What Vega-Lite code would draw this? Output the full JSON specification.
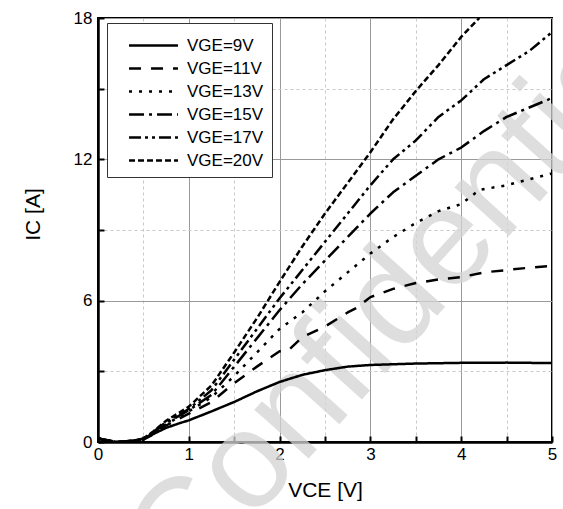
{
  "$schema": "https://vega.github.io/schema/vega-lite/v6.json",
  "width": 454,
  "height": 424,
  "autosize": {"type": "none"},
  "padding": {"left": 98, "top": 18, "right": 11, "bottom": 67},
  "background": "white",
  "config": {
    "font": "Liberation Sans",
    "view": {"stroke": "black", "strokeWidth": 2},
    "axis": {"labelFont": "Liberation Sans", "titleFont": "Liberation Sans", "labelColor": "black", "titleColor": "black", "titleFontWeight": "normal"}
  },
  "datasets": {
    "curves": [
      {"s": "VGE=9V", "x": 0, "y": 0.15}, {"s": "VGE=9V", "x": 0.1, "y": 0.05}, {"s": "VGE=9V", "x": 0.2, "y": 0.0}, {"s": "VGE=9V", "x": 0.3, "y": 0.03}, {"s": "VGE=9V", "x": 0.4, "y": 0.06}, {"s": "VGE=9V", "x": 0.5, "y": 0.15}, {"s": "VGE=9V", "x": 0.6, "y": 0.32}, {"s": "VGE=9V", "x": 0.75, "y": 0.6}, {"s": "VGE=9V", "x": 0.9, "y": 0.8}, {"s": "VGE=9V", "x": 1.0, "y": 0.92}, {"s": "VGE=9V", "x": 1.25, "y": 1.3}, {"s": "VGE=9V", "x": 1.5, "y": 1.7}, {"s": "VGE=9V", "x": 1.75, "y": 2.15}, {"s": "VGE=9V", "x": 2.0, "y": 2.55}, {"s": "VGE=9V", "x": 2.25, "y": 2.85}, {"s": "VGE=9V", "x": 2.5, "y": 3.05}, {"s": "VGE=9V", "x": 2.75, "y": 3.2}, {"s": "VGE=9V", "x": 3.0, "y": 3.27}, {"s": "VGE=9V", "x": 3.5, "y": 3.33}, {"s": "VGE=9V", "x": 4.0, "y": 3.36}, {"s": "VGE=9V", "x": 4.5, "y": 3.37}, {"s": "VGE=9V", "x": 5.0, "y": 3.35},
      {"s": "VGE=11V", "x": 0, "y": 0.15}, {"s": "VGE=11V", "x": 0.2, "y": 0.0}, {"s": "VGE=11V", "x": 0.4, "y": 0.05}, {"s": "VGE=11V", "x": 0.5, "y": 0.1}, {"s": "VGE=11V", "x": 0.6, "y": 0.3}, {"s": "VGE=11V", "x": 0.75, "y": 0.7}, {"s": "VGE=11V", "x": 1.0, "y": 1.2}, {"s": "VGE=11V", "x": 1.25, "y": 1.7}, {"s": "VGE=11V", "x": 1.5, "y": 2.5}, {"s": "VGE=11V", "x": 1.75, "y": 3.2}, {"s": "VGE=11V", "x": 2.0, "y": 3.85}, {"s": "VGE=11V", "x": 2.1, "y": 3.9}, {"s": "VGE=11V", "x": 2.25, "y": 4.45}, {"s": "VGE=11V", "x": 2.5, "y": 4.9}, {"s": "VGE=11V", "x": 2.75, "y": 5.5}, {"s": "VGE=11V", "x": 2.85, "y": 5.7}, {"s": "VGE=11V", "x": 3.0, "y": 6.15}, {"s": "VGE=11V", "x": 3.25, "y": 6.5}, {"s": "VGE=11V", "x": 3.5, "y": 6.75}, {"s": "VGE=11V", "x": 3.75, "y": 6.9}, {"s": "VGE=11V", "x": 4.0, "y": 7.0}, {"s": "VGE=11V", "x": 4.25, "y": 7.2}, {"s": "VGE=11V", "x": 4.5, "y": 7.3}, {"s": "VGE=11V", "x": 4.75, "y": 7.4}, {"s": "VGE=11V", "x": 5.0, "y": 7.48},
      {"s": "VGE=13V", "x": 0, "y": 0.15}, {"s": "VGE=13V", "x": 0.2, "y": 0.0}, {"s": "VGE=13V", "x": 0.4, "y": 0.05}, {"s": "VGE=13V", "x": 0.5, "y": 0.12}, {"s": "VGE=13V", "x": 0.6, "y": 0.35}, {"s": "VGE=13V", "x": 0.75, "y": 0.75}, {"s": "VGE=13V", "x": 1.0, "y": 1.3}, {"s": "VGE=13V", "x": 1.25, "y": 1.9}, {"s": "VGE=13V", "x": 1.5, "y": 2.8}, {"s": "VGE=13V", "x": 1.75, "y": 3.8}, {"s": "VGE=13V", "x": 2.0, "y": 4.8}, {"s": "VGE=13V", "x": 2.25, "y": 5.5}, {"s": "VGE=13V", "x": 2.5, "y": 6.4}, {"s": "VGE=13V", "x": 2.75, "y": 7.2}, {"s": "VGE=13V", "x": 3.0, "y": 8.0}, {"s": "VGE=13V", "x": 3.25, "y": 8.7}, {"s": "VGE=13V", "x": 3.5, "y": 9.3}, {"s": "VGE=13V", "x": 3.75, "y": 9.8}, {"s": "VGE=13V", "x": 4.0, "y": 10.1}, {"s": "VGE=13V", "x": 4.2, "y": 10.7}, {"s": "VGE=13V", "x": 4.5, "y": 10.9}, {"s": "VGE=13V", "x": 4.75, "y": 11.15}, {"s": "VGE=13V", "x": 5.0, "y": 11.4},
      {"s": "VGE=15V", "x": 0, "y": 0.15}, {"s": "VGE=15V", "x": 0.2, "y": 0.0}, {"s": "VGE=15V", "x": 0.4, "y": 0.05}, {"s": "VGE=15V", "x": 0.5, "y": 0.12}, {"s": "VGE=15V", "x": 0.6, "y": 0.38}, {"s": "VGE=15V", "x": 0.75, "y": 0.8}, {"s": "VGE=15V", "x": 1.0, "y": 1.35}, {"s": "VGE=15V", "x": 1.25, "y": 2.0}, {"s": "VGE=15V", "x": 1.5, "y": 3.2}, {"s": "VGE=15V", "x": 1.75, "y": 4.4}, {"s": "VGE=15V", "x": 2.0, "y": 5.6}, {"s": "VGE=15V", "x": 2.25, "y": 6.7}, {"s": "VGE=15V", "x": 2.5, "y": 7.7}, {"s": "VGE=15V", "x": 2.75, "y": 8.7}, {"s": "VGE=15V", "x": 3.0, "y": 9.7}, {"s": "VGE=15V", "x": 3.25, "y": 10.6}, {"s": "VGE=15V", "x": 3.5, "y": 11.3}, {"s": "VGE=15V", "x": 3.75, "y": 12.0}, {"s": "VGE=15V", "x": 4.0, "y": 12.5}, {"s": "VGE=15V", "x": 4.25, "y": 13.2}, {"s": "VGE=15V", "x": 4.5, "y": 13.8}, {"s": "VGE=15V", "x": 4.75, "y": 14.2}, {"s": "VGE=15V", "x": 5.0, "y": 14.6},
      {"s": "VGE=17V", "x": 0, "y": 0.15}, {"s": "VGE=17V", "x": 0.2, "y": 0.0}, {"s": "VGE=17V", "x": 0.4, "y": 0.05}, {"s": "VGE=17V", "x": 0.5, "y": 0.12}, {"s": "VGE=17V", "x": 0.6, "y": 0.4}, {"s": "VGE=17V", "x": 0.75, "y": 0.85}, {"s": "VGE=17V", "x": 1.0, "y": 1.4}, {"s": "VGE=17V", "x": 1.25, "y": 2.2}, {"s": "VGE=17V", "x": 1.5, "y": 3.5}, {"s": "VGE=17V", "x": 1.75, "y": 4.8}, {"s": "VGE=17V", "x": 2.0, "y": 6.1}, {"s": "VGE=17V", "x": 2.25, "y": 7.3}, {"s": "VGE=17V", "x": 2.5, "y": 8.5}, {"s": "VGE=17V", "x": 2.75, "y": 9.7}, {"s": "VGE=17V", "x": 3.0, "y": 10.9}, {"s": "VGE=17V", "x": 3.25, "y": 12.0}, {"s": "VGE=17V", "x": 3.5, "y": 12.8}, {"s": "VGE=17V", "x": 3.75, "y": 13.8}, {"s": "VGE=17V", "x": 4.0, "y": 14.5}, {"s": "VGE=17V", "x": 4.25, "y": 15.4}, {"s": "VGE=17V", "x": 4.5, "y": 16.0}, {"s": "VGE=17V", "x": 4.75, "y": 16.6}, {"s": "VGE=17V", "x": 5.0, "y": 17.4},
      {"s": "VGE=20V", "x": 0, "y": 0.15}, {"s": "VGE=20V", "x": 0.2, "y": 0.0}, {"s": "VGE=20V", "x": 0.4, "y": 0.05}, {"s": "VGE=20V", "x": 0.5, "y": 0.15}, {"s": "VGE=20V", "x": 0.6, "y": 0.42}, {"s": "VGE=20V", "x": 0.75, "y": 0.9}, {"s": "VGE=20V", "x": 1.0, "y": 1.5}, {"s": "VGE=20V", "x": 1.25, "y": 2.4}, {"s": "VGE=20V", "x": 1.5, "y": 3.8}, {"s": "VGE=20V", "x": 1.75, "y": 5.25}, {"s": "VGE=20V", "x": 2.0, "y": 6.8}, {"s": "VGE=20V", "x": 2.25, "y": 8.3}, {"s": "VGE=20V", "x": 2.5, "y": 9.7}, {"s": "VGE=20V", "x": 2.75, "y": 11.0}, {"s": "VGE=20V", "x": 3.0, "y": 12.3}, {"s": "VGE=20V", "x": 3.25, "y": 13.7}, {"s": "VGE=20V", "x": 3.5, "y": 14.9}, {"s": "VGE=20V", "x": 3.75, "y": 16.0}, {"s": "VGE=20V", "x": 4.0, "y": 17.2}, {"s": "VGE=20V", "x": 4.2, "y": 18.0}
    ],
    "mark": [{"x": 3.3, "y": 6.1, "t": "Confidential"}]
  },
  "layer": [
    {
      "data": {"name": "mark"},
      "mark": {"type": "text", "fontSize": 138, "angle": -48, "color": "#d4d4d4", "opacity": 0.75, "align": "center", "baseline": "middle", "font": "Liberation Sans", "clip": false},
      "encoding": {
        "x": {"field": "x", "type": "quantitative"},
        "y": {"field": "y", "type": "quantitative"},
        "text": {"field": "t"}
      }
    },
    {
      "data": {"name": "curves"},
      "mark": {"type": "line", "color": "black", "strokeWidth": 2.5, "strokeCap": "butt", "strokeJoin": "round", "clip": true},
      "encoding": {
        "x": {
          "field": "x", "type": "quantitative",
          "scale": {"domain": [0, 5], "nice": false, "zero": false},
          "axis": {
            "title": "VCE [V]", "titleFontSize": 21, "titlePadding": 17,
            "values": [0, 0.5, 1, 1.5, 2, 2.5, 3, 3.5, 4, 4.5, 5],
            "labelExpr": "datum.value % 1 === 0 ? format(datum.value, 'd') : ''",
            "labelFontSize": 17, "labelPadding": 10, "labelFlush": false,
            "tickSize": -6, "tickColor": "black", "tickWidth": 2,
            "domainColor": "black", "domainWidth": 2.5,
            "grid": true,
            "gridColor": {"condition": {"test": "datum.value % 1 !== 0", "value": "#c8c8c8"}, "value": "#9a9a9a"},
            "gridDash": {"condition": {"test": "datum.value % 1 !== 0", "value": [3, 3]}, "value": []},
            "gridWidth": 1
          }
        },
        "y": {
          "field": "y", "type": "quantitative",
          "scale": {"domain": [0, 18], "nice": false, "zero": false},
          "axis": {
            "title": "IC [A]", "titleFontSize": 21, "titlePadding": 30, "titleY": 196,
            "values": [0, 3, 6, 9, 12, 15, 18],
            "labelExpr": "datum.value % 6 === 0 ? format(datum.value, 'd') : ''",
            "labelFontSize": 17, "labelPadding": 12, "labelFlush": false,
            "tickSize": -6, "tickColor": "black", "tickWidth": 2,
            "domainColor": "black", "domainWidth": 2.5,
            "grid": true,
            "gridColor": {"condition": {"test": "datum.value % 6 !== 0", "value": "#c8c8c8"}, "value": "#9a9a9a"},
            "gridDash": {"condition": {"test": "datum.value % 6 !== 0", "value": [3, 3]}, "value": []},
            "gridWidth": 1
          }
        },
        "detail": {"field": "s"},
        "strokeDash": {
          "field": "s", "type": "nominal",
          "scale": {
            "domain": ["VGE=9V", "VGE=11V", "VGE=13V", "VGE=15V", "VGE=17V", "VGE=20V"],
            "range": [[1, 0], [12, 10], [3, 7], [15, 5, 3, 5], [12, 4, 3, 4, 3, 4], [6, 3]]
          },
          "legend": {
            "title": null, "orient": "none", "legendX": 9, "legendY": 5,
            "symbolType": "M-1.85,0H1.85", "symbolSize": 700, "symbolStrokeWidth": 2.5, "symbolStrokeColor": "black",
            "labelFontSize": 17, "labelFont": "Liberation Sans", "labelColor": "black", "labelOffset": 19,
            "rowPadding": 0, "padding": 8, "symbolOffset": 24,
            "strokeColor": "#333", "fillColor": "white"
          }
        }
      }
    }
  ]
}
